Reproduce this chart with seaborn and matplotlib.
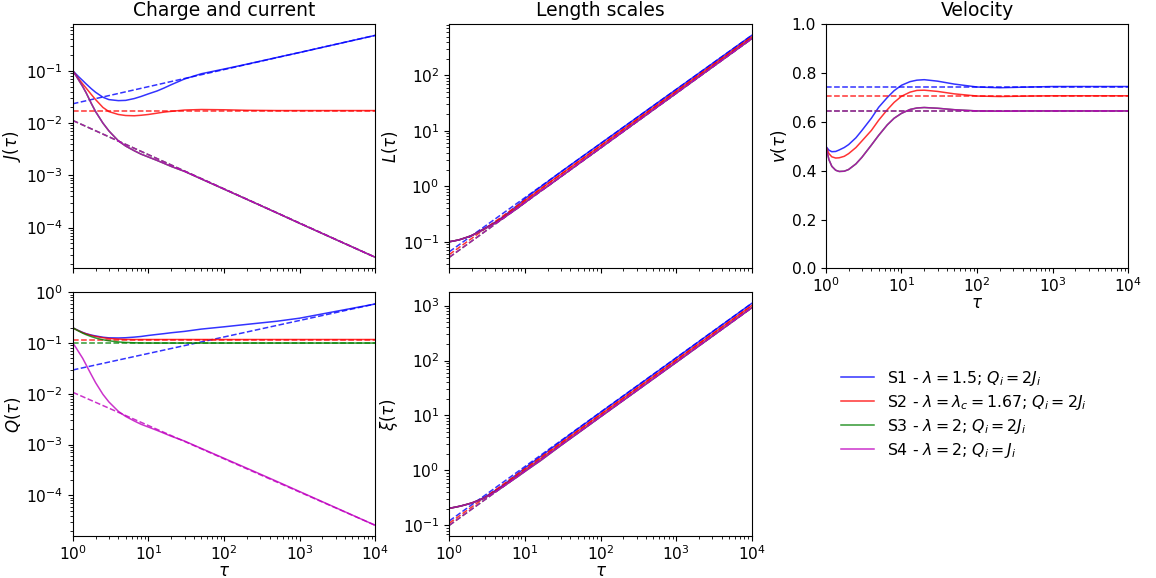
import numpy as np
import matplotlib
matplotlib.use("Agg")
import matplotlib.pyplot as plt
import seaborn as sns

# Sample times (tau) shared by all solid curves
tau = [1, 1.1, 1.2, 1.35, 1.5, 1.75, 2, 2.5, 3, 4, 5, 6.5, 8, 10, 13, 16, 20, 30, 50,
       100, 200, 500, 1000, 10000]
tau_ends = [1, 10000]

# Current J(tau), stored as log10 exponents
J_S1 = [-1.0, -1.06, -1.115, -1.185, -1.25, -1.34, -1.41, -1.505, -1.55, -1.57, -1.565, -1.53,
        -1.49, -1.44, -1.385, -1.33, -1.265, -1.155, -1.055, -0.965, -0.872, -0.743, -0.648, -0.32]
J_S2 = [-1.0, -1.08, -1.155, -1.25, -1.33, -1.45, -1.55, -1.70, -1.78, -1.835, -1.855, -1.86,
        -1.85, -1.835, -1.81, -1.79, -1.775, -1.75, -1.74, -1.745, -1.755, -1.76, -1.76, -1.76]
J_S34 = [-1.0, -1.09, -1.18, -1.30, -1.42, -1.62, -1.78, -2.0, -2.15, -2.34, -2.44, -2.53,
         -2.595, -2.65, -2.715, -2.77, -2.83, -2.925, -3.07, -3.265, -3.46, -3.72, -3.92, -4.57]
J_fit_S1 = [-1.63, -0.32]
J_fit_S2 = [-1.76, -1.76]
J_fit_S34 = [-1.95, -4.57]

# Charge Q(tau), log10 exponents
Q_S1 = [-0.70, -0.73, -0.757, -0.79, -0.815, -0.842, -0.86, -0.885, -0.897, -0.9, -0.895, -0.883,
        -0.87, -0.85, -0.83, -0.815, -0.797, -0.77, -0.725, -0.68, -0.632, -0.57, -0.51, -0.23]
Q_S2 = [-0.70, -0.733, -0.76, -0.795, -0.82, -0.85, -0.87, -0.895, -0.91, -0.922, -0.928, -0.93,
        -0.93, -0.93, -0.93, -0.93, -0.93, -0.93, -0.93, -0.93, -0.93, -0.93, -0.93, -0.93]
Q_S3 = [-0.70, -0.735, -0.765, -0.805, -0.835, -0.872, -0.9, -0.935, -0.955, -0.978, -0.988,
        -0.995, -0.998, -1.0, -1.0, -1.0, -1.0, -1.0, -1.0, -1.0, -1.0, -1.0, -1.0, -1.0]
Q_S4 = [-1.0, -1.09, -1.18, -1.30, -1.43, -1.62, -1.78, -2.01, -2.16, -2.345, -2.445, -2.535,
        -2.6, -2.655, -2.72, -2.775, -2.835, -2.93, -3.075, -3.27, -3.465, -3.725, -3.925, -4.59]
Q_fit_S1 = [-1.53, -0.23]
Q_fit_S2 = [-0.93, -0.93]
Q_fit_S3 = [-1.0, -1.0]
Q_fit_S4 = [-1.97, -4.59]

# Length L(tau), log10 exponents
L_S1 = [-1.0, -0.99, -0.98, -0.965, -0.945, -0.915, -0.885, -0.81, -0.75, -0.65, -0.56, -0.44,
        -0.34, -0.225, -0.105, -0.015, 0.082, 0.26, 0.477, 0.77, 1.063, 1.452, 1.745, 2.72]
L_S2 = [-1.0, -0.99, -0.98, -0.965, -0.945, -0.915, -0.885, -0.815, -0.755, -0.66, -0.575, -0.46,
        -0.37, -0.26, -0.145, -0.055, 0.045, 0.217, 0.435, 0.73, 1.025, 1.415, 1.71, 2.69]
L_S34 = [-1.0, -0.99, -0.98, -0.965, -0.945, -0.915, -0.885, -0.82, -0.76, -0.67, -0.59, -0.48,
         -0.395, -0.295, -0.18, -0.09, 0.0, 0.175, 0.394, 0.69, 0.987, 1.379, 1.675, 2.66]
L_fit_S1 = [-1.18, 2.72]
L_fit_S2 = [-1.23, 2.69]
L_fit_S34 = [-1.28, 2.66]

# Correlation length xi(tau), log10 exponents
X_S1 = [-0.69, -0.68, -0.67, -0.655, -0.64, -0.615, -0.59, -0.535, -0.48, -0.37, -0.28, -0.16,
        -0.06, 0.045, 0.16, 0.25, 0.35, 0.53, 0.755, 1.055, 1.353, 1.747, 2.045, 3.04]
X_S2 = [-0.69, -0.68, -0.67, -0.655, -0.64, -0.615, -0.59, -0.54, -0.49, -0.385, -0.295, -0.18,
        -0.09, 0.01, 0.12, 0.21, 0.31, 0.49, 0.715, 1.015, 1.313, 1.707, 2.005, 3.0]
X_S34 = [-0.69, -0.68, -0.67, -0.655, -0.64, -0.615, -0.595, -0.545, -0.495, -0.395, -0.31,
         -0.2, -0.115, -0.02, 0.09, 0.175, 0.275, 0.455, 0.675, 0.975, 1.273, 1.667, 1.965, 2.96]
X_fit_S1 = [-0.92, 3.04]
X_fit_S2 = [-0.96, 3.0]
X_fit_S34 = [-1.0, 2.96]

# Velocity v(tau)
v_S1 = [0.50, 0.484, 0.478, 0.479, 0.485, 0.495, 0.507, 0.535, 0.565, 0.615, 0.66, 0.70,
        0.728, 0.75, 0.765, 0.771, 0.773, 0.767, 0.755, 0.743, 0.74, 0.743, 0.745, 0.745]
v_S2 = [0.50, 0.47, 0.457, 0.452, 0.453, 0.459, 0.47, 0.495, 0.522, 0.565, 0.607, 0.65,
        0.68, 0.705, 0.722, 0.729, 0.73, 0.725, 0.715, 0.706, 0.704, 0.706, 0.707, 0.707]
v_S34 = [0.50, 0.445, 0.418, 0.402, 0.397, 0.398, 0.405, 0.428, 0.455, 0.505, 0.545, 0.588,
         0.615, 0.635, 0.651, 0.657, 0.659, 0.656, 0.65, 0.645, 0.644, 0.645, 0.645, 0.645]
v_fit_S1 = [0.745, 0.745]
v_fit_S2 = [0.707, 0.707]
v_fit_S34 = [0.645, 0.645]

labels = [r"S1 - $\lambda = 1.5$; $Q_i = 2J_i$",
          r"S2 - $\lambda = \lambda_c = 1.67$; $Q_i = 2J_i$",
          r"S3 - $\lambda = 2$; $Q_i = 2J_i$",
          r"S4 - $\lambda = 2$; $Q_i = J_i$"]
colors = ["b", "r", "g", "m"]

LW = 1.1
ALPHA = 0.8


def exp10(v):
    return np.power(10.0, np.asarray(v, dtype=float))


def draw(ax, series, fits, log=True, label=False):
    """series/fits: one entry per scenario S1..S4."""
    for i, (ys, yf) in enumerate(zip(series, fits)):
        y = exp10(ys) if log else np.asarray(ys, dtype=float)
        yd = exp10(yf) if log else np.asarray(yf, dtype=float)
        sns.lineplot(x=tau, y=y, ax=ax, color=colors[i], lw=LW, alpha=ALPHA,
                     sort=False, estimator=None, legend=False,
                     label=labels[i] if label else None)
        sns.lineplot(x=tau_ends, y=yd, ax=ax, color=colors[i], lw=LW, alpha=ALPHA,
                     linestyle="--", sort=False, estimator=None, legend=False)


fig = plt.figure(figsize=(11.56, 5.78), dpi=100)
axes = fig.subplots(2, 3)
fig.subplots_adjust(left=0.063, right=0.976, top=0.958, bottom=0.072,
                    wspace=0.245, hspace=0.098)

axJ, axL, axV = axes[0]
axQ, axX, axE = axes[1]

draw(axJ, [J_S1, J_S2, J_S34, J_S34], [J_fit_S1, J_fit_S2, J_fit_S34, J_fit_S34])
draw(axQ, [Q_S1, Q_S2, Q_S3, Q_S4], [Q_fit_S1, Q_fit_S2, Q_fit_S3, Q_fit_S4], label=True)
draw(axL, [L_S1, L_S2, L_S34, L_S34], [L_fit_S1, L_fit_S2, L_fit_S34, L_fit_S34])
draw(axX, [X_S1, X_S2, X_S34, X_S34], [X_fit_S1, X_fit_S2, X_fit_S34, X_fit_S34])
draw(axV, [v_S1, v_S2, v_S34, v_S34], [v_fit_S1, v_fit_S2, v_fit_S34, v_fit_S34], log=False)

TICK = 11.2
LABEL = 12
TITLE = 13.5
for ax in [axJ, axQ, axL, axX, axV]:
    ax.set_xscale("log")
    ax.set_xlim(1, 1e4)
    ax.tick_params(labelsize=TICK)
    ax.tick_params(axis="x", pad=2.5)
    ax.set_xlabel("")
for ax in [axJ, axQ, axL, axX]:
    ax.set_yscale("log")

axQ.set_ylim(top=1)
axV.set_ylim(0, 1)

axJ.tick_params(labelbottom=False)
axL.tick_params(labelbottom=False)

axJ.set_title("Charge and current", fontsize=TITLE)
axL.set_title("Length scales", fontsize=TITLE)
axV.set_title("Velocity", fontsize=TITLE)

axJ.set_ylabel(r"$J(\tau)$", fontsize=LABEL, labelpad=2)
axQ.set_ylabel(r"$Q(\tau)$", fontsize=LABEL, labelpad=2)
axL.set_ylabel(r"$L(\tau)$", fontsize=LABEL, labelpad=2)
axX.set_ylabel(r"$\xi(\tau)$", fontsize=LABEL, labelpad=2)
axV.set_ylabel(r"$v(\tau)$", fontsize=LABEL, labelpad=2)
for ax in [axQ, axX, axV]:
    ax.set_xlabel(r"$\tau$", fontsize=LABEL, labelpad=-1)

# Legend sits in the otherwise unused lower-right slot
axE.axis("off")
handles, labs = axQ.get_legend_handles_labels()
axE.legend(handles, labs, loc="center left", bbox_to_anchor=(0.7155, 0.283),
           bbox_transform=fig.transFigure, frameon=False, fontsize=11.3,
           handlelength=2.1, labelspacing=0.32)

fig.savefig("out.png", dpi=100)
